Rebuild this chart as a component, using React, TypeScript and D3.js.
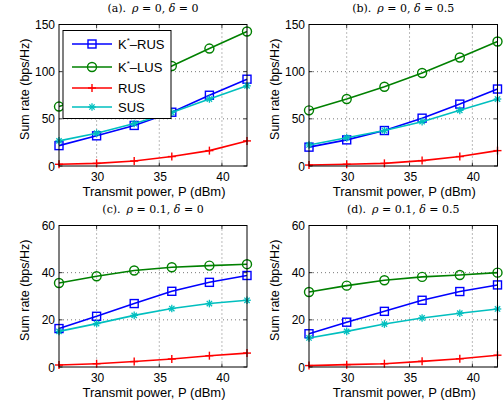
import React from "react";
import * as d3 from "d3";

const xs = [27, 30, 33, 36, 39, 42];
const seriesNames = ["K*-RUS", "K*-LUS", "RUS", "SUS"];

const aKRUS = [21.6, 32, 43, 57, 75, 92];
const aKLUS = [63, 76, 90, 106, 124.5, 142.6];
const aRUS = [1.8, 2.8, 5.3, 10, 16.3, 26.6];
const aSUS = [26.6, 34.8, 45, 56.7, 71, 85];

const bKRUS = [20, 27.7, 37.6, 50.7, 65.6, 81.6];
const bKLUS = [59, 71, 84, 98.6, 115, 132];
const bRUS = [1, 1.8, 2.8, 5.7, 10, 16.3];
const bSUS = [22.3, 30, 37.6, 47, 59, 71];

const cKRUS = [16.3, 21.5, 26.9, 32.1, 35.9, 38.8];
const cKLUS = [35.6, 38.5, 40.9, 42.3, 43, 43.6];
const cRUS = [0.85, 1.4, 2.3, 3.4, 4.8, 5.9];
const cSUS = [15.1, 18.4, 21.9, 24.8, 26.9, 28.3];

const dKRUS = [14.1, 19, 23.6, 28.3, 32, 34.8];
const dKLUS = [31.8, 34.5, 36.8, 38.2, 39, 40];
const dRUS = [0.6, 1, 1.4, 2.4, 3.5, 5];
const dSUS = [12.3, 15.1, 18.2, 20.8, 22.8, 24.6];

const xTicks = [30, 35, 40];
const yTicksTop = [0, 50, 100, 150];
const yTicksBottom = [0, 20, 40, 60];

const colors = ["#0000ff", "#008000", "#ff0000", "#00bfbf"];
const markers = ["square", "circle", "plus", "star"];

const sans = "Liberation Sans, Arial, sans-serif";
const serif = "DejaVu Serif, Liberation Serif, serif";

type PanelDef = {
  label: string;
  rho: string;
  delta: string;
  x0: number;
  x1: number;
  y0: number;
  y1: number;
  yMax: number;
  yTicks: number[];
  data: number[][];
  legend?: boolean;
};

function Marker({ kind, x, y, color }: { kind: string; x: number; y: number; color: string }) {
  const sw = 1.4;
  if (kind === "square") {
    return <rect x={x - 4} y={y - 4} width={8} height={8} fill="none" stroke={color} strokeWidth={sw} />;
  }
  if (kind === "circle") {
    return <circle cx={x} cy={y} r={4.5} fill="none" stroke={color} strokeWidth={sw} />;
  }
  if (kind === "plus") {
    return (
      <g stroke={color} strokeWidth={sw}>
        <line x1={x - 4} x2={x + 4} y1={y} y2={y} />
        <line x1={x} x2={x} y1={y - 4} y2={y + 4} />
      </g>
    );
  }
  const r = 3.8;
  return (
    <g stroke={color} strokeWidth={1.3}>
      <line x1={x - r} x2={x + r} y1={y} y2={y} />
      <line x1={x} x2={x} y1={y - r} y2={y + r} />
      <line x1={x - r * 0.7} x2={x + r * 0.7} y1={y - r * 0.7} y2={y + r * 0.7} />
      <line x1={x - r * 0.7} x2={x + r * 0.7} y1={y + r * 0.7} y2={y - r * 0.7} />
    </g>
  );
}

function Panel({ p }: { p: PanelDef }) {
  const x = d3.scaleLinear().domain([27, 42]).range([p.x0, p.x1]);
  const y = d3.scaleLinear().domain([0, p.yMax]).range([p.y1, p.y0]);
  const line = d3
    .line<number>()
    .x((_, i) => x(xs[i]))
    .y((v) => y(v));
  const cx = (p.x0 + p.x1) / 2;
  const cy = (p.y0 + p.y1) / 2;
  const tl = 3.5;
  return (
    <g>
      {xTicks.map((t) => (
        <line key={"gx" + t} x1={x(t)} x2={x(t)} y1={p.y0} y2={p.y1} stroke="#555" strokeWidth={0.8} strokeDasharray="1,3" />
      ))}
      {p.yTicks.slice(1, -1).map((t) => (
        <line key={"gy" + t} x1={p.x0} x2={p.x1} y1={y(t)} y2={y(t)} stroke="#555" strokeWidth={0.8} strokeDasharray="1,3" />
      ))}
      {xTicks.map((t) => (
        <g key={"tx" + t} stroke="#000" strokeWidth={0.8}>
          <line x1={x(t)} x2={x(t)} y1={p.y1} y2={p.y1 - tl} />
          <line x1={x(t)} x2={x(t)} y1={p.y0} y2={p.y0 + tl} />
        </g>
      ))}
      {p.yTicks.map((t) => (
        <g key={"ty" + t} stroke="#000" strokeWidth={0.8}>
          <line x1={p.x0} x2={p.x0 + tl} y1={y(t)} y2={y(t)} />
          <line x1={p.x1} x2={p.x1 - tl} y1={y(t)} y2={y(t)} />
        </g>
      ))}
      {p.data.map((vals, si) => (
        <g key={"s" + si}>
          <path d={line(vals) || ""} fill="none" stroke={colors[si]} strokeWidth={1.6} />
          {vals.map((v, i) => (
            <Marker key={i} kind={markers[si]} x={x(xs[i])} y={y(v)} color={colors[si]} />
          ))}
        </g>
      ))}
      <rect x={p.x0} y={p.y0} width={p.x1 - p.x0} height={p.y1 - p.y0} fill="none" stroke="#000" strokeWidth={1} />
      {xTicks.map((t) => (
        <text key={"lx" + t} x={x(t) + 1} y={p.y1 + 15} textAnchor="middle" fontFamily={sans} fontSize={12}>
          {t}
        </text>
      ))}
      {p.yTicks.map((t) => (
        <text key={"ly" + t} x={p.x0 - 4} y={y(t) + 4.5} textAnchor="end" fontFamily={sans} fontSize={12}>
          {t}
        </text>
      ))}
      <text x={cx + 1} y={p.y1 + 30} textAnchor="middle" fontFamily={sans} fontSize={13}>
        Transmit power, P (dBm)
      </text>
      <text
        transform={`translate(${p.x0 - 30},${cy - 6}) rotate(-90)`}
        textAnchor="middle"
        fontFamily={sans}
        fontSize={12.5}
      >
        Sum rate (bps/Hz)
      </text>
      <text x={cx} y={p.y0 - 12.5} textAnchor="middle" fontFamily={serif} fontSize={11}>
        {p.label}
        <tspan dx={6} fontStyle="italic">ρ</tspan>
        <tspan> = {p.rho}, </tspan>
        <tspan fontStyle="italic">δ</tspan>
        <tspan> = {p.delta}</tspan>
      </text>
      {p.legend && (
        <g>
          <rect x={p.x0 + 4} y={p.y0 + 6} width={108} height={88} fill="#fff" stroke="#000" strokeWidth={1} />
          {seriesNames.map((n, i) => {
            const ly = [44, 67, 88, 107][i];
            const star = n.startsWith("K*");
            return (
              <g key={n}>
                <line x1={72} x2={112} y1={ly} y2={ly} stroke={colors[i]} strokeWidth={1.6} />
                <Marker kind={markers[i]} x={92} y={ly} color={colors[i]} />
                <text x={118} y={ly + 5} fontFamily={sans} fontSize={13}>
                  {star ? (
                    <>
                      K<tspan dy={-6} fontSize={8}>*</tspan>
                      <tspan dy={6}>–{n.slice(3)}</tspan>
                    </>
                  ) : (
                    n
                  )}
                </text>
              </g>
            );
          })}
        </g>
      )}
    </g>
  );
}

export default function App() {
  const panels: PanelDef[] = [
    { label: "(a).", rho: "0", delta: "0", x0: 59, x1: 247, y0: 24.5, y1: 166, yMax: 150, yTicks: yTicksTop, data: [aKRUS, aKLUS, aRUS, aSUS], legend: true },
    { label: "(b).", rho: "0", delta: "0.5", x0: 309, x1: 497.5, y0: 24.5, y1: 166, yMax: 150, yTicks: yTicksTop, data: [bKRUS, bKLUS, bRUS, bSUS] },
    { label: "(c).", rho: "0.1", delta: "0", x0: 59, x1: 247, y0: 225.5, y1: 367, yMax: 60, yTicks: yTicksBottom, data: [cKRUS, cKLUS, cRUS, cSUS] },
    { label: "(d).", rho: "0.1", delta: "0.5", x0: 309, x1: 497.5, y0: 225.5, y1: 367, yMax: 60, yTicks: yTicksBottom, data: [dKRUS, dKLUS, dRUS, dSUS] },
  ];
  return (
    <svg width={503} height={411} style={{ position: "absolute", left: 0, top: 0, background: "#fff" }}>
      <rect width={503} height={411} fill="#fff" />
      {panels.map((p, i) => (
        <Panel key={i} p={p} />
      ))}
    </svg>
  );
}
